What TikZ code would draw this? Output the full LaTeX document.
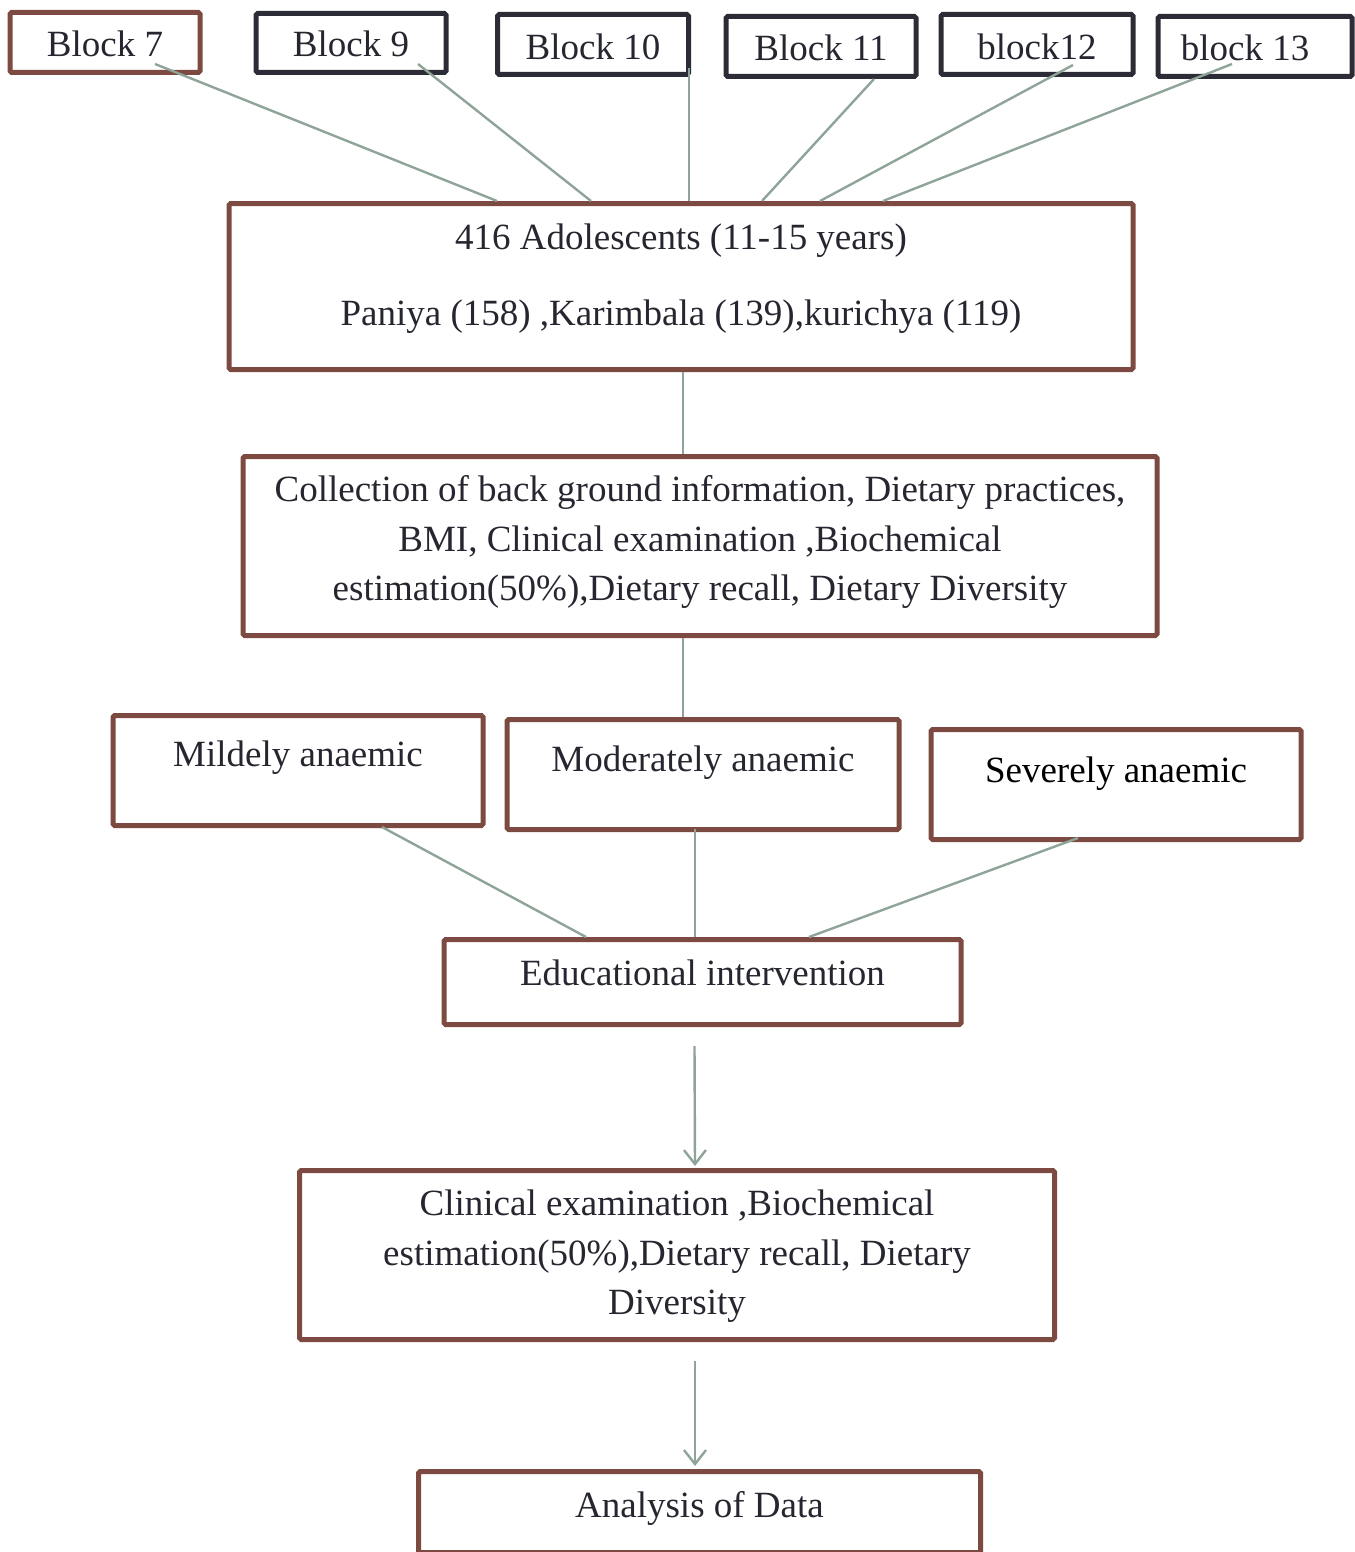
\documentclass[tikz,border=0pt]{standalone}
\usepackage{fontspec}
\setmainfont{Liberation Serif}
\usetikzlibrary{calc,arrows.meta}
\definecolor{boxbrown}{RGB}{124,74,64}
\definecolor{boxdark}{RGB}{44,44,54}
\definecolor{linkgreen}{RGB}{143,164,152}
\definecolor{inktext}{RGB}{38,38,48}
\tikzset{
  box/.style={draw=boxbrown, line width=2.5pt, inner sep=0pt, anchor=north,
    text=inktext, align=center, rounded corners=0.8pt},
  darkbox/.style={box, draw=boxdark},
  link/.style={draw=linkgreen, line width=1.2pt},
  arrowlink/.style={link, -{Straight Barb[length=7pt,width=11pt]}}
}
\begin{document}
\begin{tikzpicture}[x=0.5pt, y=-0.5pt, font=\fontsize{18.5}{24.75}\selectfont]
  \useasboundingbox (0,0) rectangle (1354,1552);
  % ---------- blocks ----------
  \node[box, minimum width=95pt, text height=22pt, text depth=8pt] (b7) at (105,10) {Block 7};
  \node[darkbox, minimum width=95pt, text height=21.5pt, text depth=8pt] (b9) at (351,11) {Block 9};
  \node[darkbox, minimum width=95.5pt, text height=22.5pt, text depth=7.5pt] (b10) at (593,12) {Block 10};
  \node[darkbox, minimum width=95pt, text height=22pt, text depth=8pt] (b11) at (821,14) {Block 11};
  \node[darkbox, minimum width=96pt, text height=22.5pt, text depth=7.5pt] (b12) at (1037,12) {block12};
  \node[darkbox, minimum width=97pt, text height=22pt, text depth=8pt] (b13) at (1255,14) {block 13\hspace{10pt}};
  % ---------- sample ----------
  \node[box, minimum width=452pt, text height=61pt, text depth=22pt] (main) at (681,201)
    {416 Adolescents (11-15 years)\\[13.25pt]
     Paniya (158) ,Karimbala (139),kurichya (119)};
  \node[box, minimum width=457pt, text height=72pt, text depth=17.5pt] (coll) at (700,454)
    {Collection of back ground information, Dietary practices,\\
     BMI, Clinical examination ,Biochemical\\
     estimation(50\%),Dietary recall, Dietary Diversity};
  % ---------- anaemia groups ----------
  \node[box, minimum width=185pt, text height=25.5pt, text depth=29.5pt] (mild) at (298,713) {Mildely anaemic};
  \node[box, minimum width=196pt, text height=26pt, text depth=29pt] (mod) at (703,717) {Moderately anaemic};
  \node[box, minimum width=185pt, text height=26.5pt, text depth=28.5pt, text=black] (sev) at (1116,727) {Severely anaemic};
  % ---------- intervention ----------
  \node[box, minimum width=258.5pt, text height=23pt, text depth=19.5pt] (edu) at (702.5,937) {Educational intervention};
  \node[box, minimum width=377.5pt, text height=72pt, text depth=12.5pt] (clin) at (677,1168)
    {Clinical examination ,Biochemical\\
     estimation(50\%),Dietary recall, Dietary\\
     Diversity};
  \node[box, minimum width=281pt, text height=23pt, text depth=17.5pt] (ana) at (699.5,1469) {Analysis of Data};
  % ---------- links ----------
  \draw[link] ($(b7.south)+(50,-11)$) -- ($(main.north)+(-184,0)$);
  \draw[link] ($(b9.south)+(67,-11)$) -- ($(main.north)+(-90,0)$);
  \draw[link] ($(b10.south)+(96,-9)$) -- ($(main.north)+(8,0)$);
  \draw[link] ($(b11.south)+(53,0)$) -- ($(main.north)+(81,0)$);
  \draw[link] ($(b12.south)+(36,-12)$) -- ($(main.north)+(139,0)$);
  \draw[link] ($(b13.south)+(-23,-15)$) -- ($(main.north)+(202,0)$);
  \draw[link] ($(main.south)+(2,0)$) -- ($(coll.north)+(-17,0)$);
  \draw[link] ($(coll.south)+(-17,0)$) -- ($(mod.north)+(-20,0)$);
  \draw[link] ($(mild.south)+(84,-1)$) -- ($(edu.north)+(-116.5,0)$);
  \draw[link] ($(mod.south)+(-8,-3)$) -- ($(edu.north)+(-7.5,0)$);
  \draw[link] ($(sev.south)+(-38,-4)$) -- ($(edu.north)+(106.5,0)$);
  \draw[arrowlink] ($(edu.south)+(-8,19)$) -- ($(clin.north)+(18,-2)$);
  \draw[arrowlink] ($(clin.south)+(18,19)$) -- ($(ana.north)+(-4.5,-3)$);
\end{tikzpicture}
\end{document}
